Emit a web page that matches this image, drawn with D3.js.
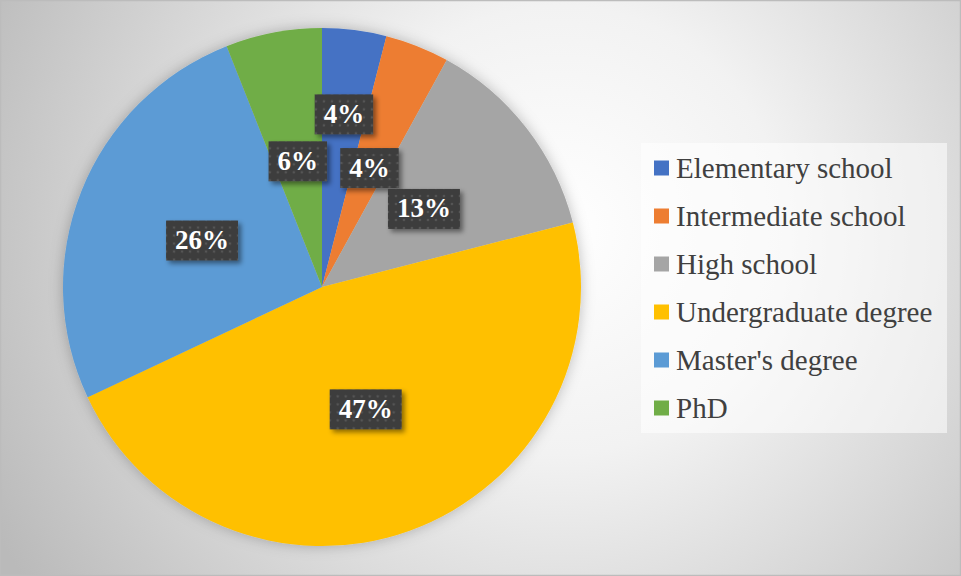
<!DOCTYPE html>
<html>
<head>
<meta charset="utf-8">
<script src="https://cdn.jsdelivr.net/npm/d3@7"></script>
<style>
  html, body { margin: 0; padding: 0; background: #fff; }
  svg { display: block; }
</style>
</head>
<body>
<svg id="chart" width="961" height="576"></svg>
<script>
// Education level shares (percent)
const categories = ["Elementary school", "Intermediate school", "High school",
                    "Undergraduate degree", "Master's degree", "PhD"];
const values = [4, 4, 13, 47, 26, 6];
const labels = ["4%", "4%", "13%", "47%", "26%", "6%"];
const colors = ["#4472C4", "#ED7D31", "#A5A5A5", "#FFC000", "#5B9BD5", "#70AD47"];

const W = 961, H = 576;
const cx = 322, cy = 287, R = 259;
const serif = "'Liberation Serif', 'Times New Roman', 'DejaVu Serif', serif";

const svg = d3.select("#chart");
const defs = svg.append("defs");

// Background radial gradient
const bg = defs.append("radialGradient").attr("id", "bgGrad")
  .attr("gradientUnits", "userSpaceOnUse")
  .attr("cx", 560).attr("cy", 230).attr("r", 640);
bg.append("stop").attr("offset", "0%").attr("stop-color", "#ffffff");
bg.append("stop").attr("offset", "35%").attr("stop-color", "#f2f2f2");
bg.append("stop").attr("offset", "100%").attr("stop-color", "#bababa");

// Soft shadow around the pie
const pieShadow = defs.append("filter").attr("id", "pieShadow")
  .attr("x", "-20%").attr("y", "-20%").attr("width", "140%").attr("height", "140%");
pieShadow.append("feDropShadow").attr("dx", 0).attr("dy", 0)
  .attr("stdDeviation", 7).attr("flood-color", "#000").attr("flood-opacity", 0.25);

// Shadow under label boxes
const boxShadow = defs.append("filter").attr("id", "boxShadow")
  .attr("x", "-30%").attr("y", "-30%").attr("width", "160%").attr("height", "160%");
boxShadow.append("feDropShadow").attr("dx", 3).attr("dy", 3)
  .attr("stdDeviation", 2.5).attr("flood-color", "#000").attr("flood-opacity", 0.45);

// Dotted texture for label boxes
const pat = defs.append("pattern").attr("id", "dots")
  .attr("patternUnits", "userSpaceOnUse").attr("width", 8).attr("height", 8);
pat.append("rect").attr("width", 8).attr("height", 8).attr("fill", "#3d3d3d");
pat.append("circle").attr("cx", 4).attr("cy", 4).attr("r", 1.3).attr("fill", "#555555");

svg.append("rect").attr("width", W).attr("height", H).attr("fill", "url(#bgGrad)");
svg.append("rect").attr("x", 0.5).attr("y", 0.5).attr("width", W - 1).attr("height", H - 1)
  .attr("fill", "none").attr("stroke", "#bcbcbc").attr("stroke-width", 1.5);

// Pie
const pie = d3.pie().value(d => d).sort(null);
const arcs = pie(values);
const arc = d3.arc().innerRadius(0).outerRadius(R);

const g = svg.append("g").attr("transform", `translate(${cx},${cy})`);
g.append("g").attr("filter", "url(#pieShadow)")
  .selectAll("path").data(arcs).join("path")
  .attr("d", arc)
  .attr("fill", (d, i) => colors[i]);

// Data labels: placed at half radius, the first one pushed outward
const labelRadius = i => (i === 0 ? 175 : 129);
const lbl = g.append("g").selectAll("g").data(arcs).join("g")
  .attr("transform", (d, i) => {
    const r = labelRadius(i);
    const a = d3.arc().innerRadius(r).outerRadius(r);
    const [x, y] = a.centroid(d);
    return `translate(${x},${y})`;
  });

lbl.each(function(d, i) {
  const sel = d3.select(this);
  const t = sel.append("text")
    .attr("text-anchor", "middle")
    .attr("dy", "0.35em")
    .attr("font-family", serif)
    .attr("font-weight", "bold")
    .attr("font-size", 27)
    .attr("fill", "#ffffff")
    .text(labels[i]);
  const bb = t.node().getBBox();
  const w = bb.width + 18, h = 40;
  sel.insert("rect", "text")
    .attr("x", -w / 2).attr("y", -h / 2 + 1)
    .attr("width", w).attr("height", h)
    .attr("fill", "url(#dots)")
    .attr("filter", "url(#boxShadow)");
});

// Legend
const lx = 641, ly = 143, lw = 306, lh = 290;
svg.append("rect").attr("x", lx).attr("y", ly).attr("width", lw).attr("height", lh)
  .attr("fill", "#ffffff").attr("fill-opacity", 0.55);

const leg = svg.append("g").selectAll("g").data(categories).join("g")
  .attr("transform", (d, i) => `translate(${lx + 13},${ly + 25 + i * 48})`);
leg.append("rect").attr("x", 0).attr("y", -7.5).attr("width", 15).attr("height", 15)
  .attr("fill", (d, i) => colors[i]);
leg.append("text")
  .attr("x", 22).attr("dy", "0.35em")
  .attr("font-family", serif)
  .attr("font-size", 29)
  .attr("fill", "#404040")
  .text(d => d);
</script>
</body>
</html>
